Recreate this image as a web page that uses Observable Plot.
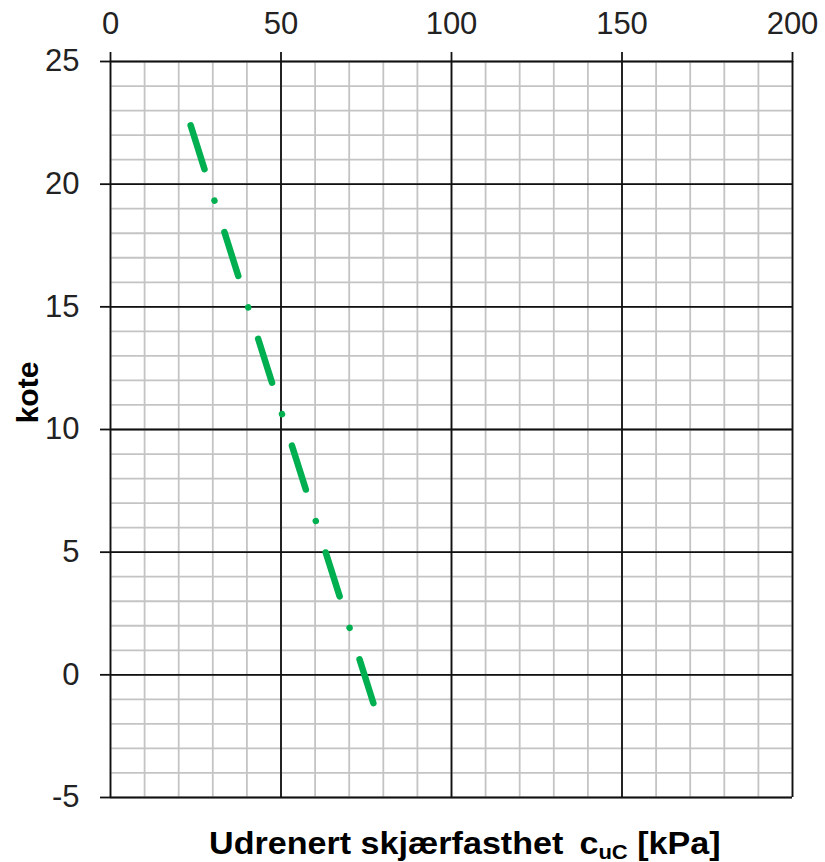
<!DOCTYPE html>
<html>
<head>
<meta charset="utf-8">
<script src="https://cdn.jsdelivr.net/npm/d3@7"></script>
<script src="https://cdn.jsdelivr.net/npm/@observablehq/plot@0.6"></script>
<style>
  html, body { margin: 0; padding: 0; background: #fff; }
  body { position: relative; width: 825px; height: 862px; overflow: hidden; }
  #chart svg { display: block; }
  .xlabel {
    position: absolute;
    left: 209px;
    top: 828px;
    white-space: nowrap;
    font-family: "Liberation Sans", Arial, sans-serif;
    font-weight: bold;
    font-size: 31px;
    line-height: 31px;
    color: #000;
    transform: scaleX(1.1);
    transform-origin: left center;
  }
  .xlabel .c { margin-left: 6px; }
  .xlabel sub { font-size: 20px; vertical-align: -5px; line-height: 0; }
</style>
</head>
<body>
<div id="chart"></div>
<div class="xlabel">Udrenert skjærfasthet <span class="c">c</span><sub>uC</sub> [kPa]</div>
<script>
// Undrained shear strength profile: elevation (kote) vs c_uC
const kote = [22.4, -1.2];
const cuC = [23.5, 77.2];
const xTicks = [0, 50, 100, 150, 200];
const yTicks = [-5, 0, 5, 10, 15, 20, 25];

const profile = kote.map((k, i) => ({kote: k, cu: cuC[i]}));
const xMinor = d3.range(0, 201, 10);
const yMinor = d3.range(-5, 26, 1);

const chart = Plot.plot({
  width: 825,
  height: 815,
  marginTop: 61,
  marginBottom: 18,
  marginLeft: 110,
  marginRight: 33,
  style: {fontFamily: "Liberation Sans, Arial, sans-serif", fontSize: "31px", color: "#222"},
  x: {domain: [0, 200], axis: null},
  y: {domain: [-5, 25], axis: null},
  marks: [
    Plot.ruleX(xMinor, {stroke: "#c4c4c4", strokeWidth: 1.8}),
    Plot.ruleY(yMinor, {stroke: "#c4c4c4", strokeWidth: 1.8}),
    Plot.ruleX(xTicks, {stroke: "#111", strokeWidth: 1.8}),
    Plot.ruleY(yTicks, {stroke: "#111", strokeWidth: 1.8}),
    Plot.axisX({anchor: "top", ticks: xTicks, tickSize: 10, tickPadding: 18, tickFormat: d => String(d), label: null, stroke: "#111", strokeWidth: 1.8}),
    Plot.axisY({anchor: "left", ticks: yTicks, tickSize: 10, tickPadding: 21, tickFormat: d => String(d), label: null, stroke: "#111", strokeWidth: 1.8}),
    Plot.text(["kote"], {frameAnchor: "left", textAnchor: "middle", dx: -82, dy: -37, rotate: -90, fontWeight: "bold", fontSize: 30, fill: "#000"}),
    Plot.line(profile, {
      x: "cu", y: "kote",
      stroke: "#00b050", strokeWidth: 6.5,
      strokeLinecap: "round",
      strokeDasharray: "46,33,0.01,33"
    })
  ]
});
document.getElementById("chart").append(chart);
</script>
</body>
</html>
